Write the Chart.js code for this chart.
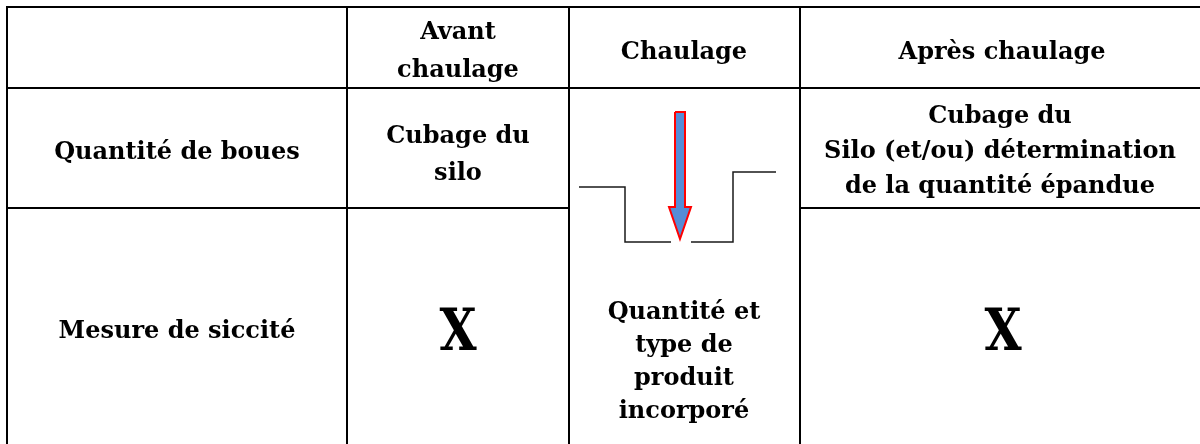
<!DOCTYPE html>
<html>
<head>
<meta charset="utf-8">
<script src="https://cdn.jsdelivr.net/npm/chart.js@4/dist/chart.umd.min.js"></script>
<style>
  body { margin: 0; background: #fff; }
  #wrap { width: 1200px; height: 444px; }
</style>
</head>
<body>
<div id="wrap"><canvas id="tableau" width="1200" height="444"></canvas></div>
<script>
// contenu du tableau
const colonnes = ["", "Avant\nchaulage", "Chaulage", "Après chaulage"];
const lignes = ["Quantité de boues", "Mesure de siccité"];
const quantiteBoues = ["Cubage du\nsilo", null, "Cubage du\nSilo (et/ou) détermination\nde la quantité épandue"];
const mesureSiccite = ["X", "Quantité et\ntype de\nproduit\nincorporé", "X"];

// bords des colonnes / lignes (unités de l'axe)
const bordsX = [7, 347, 569, 800, 1200];
const bordsY = [7, 88, 208, 444];

// schéma du chaulage : fosse + flèche
const fosse = [
    { x: 579, y: 187 }, { x: 625, y: 187 }, { x: 625, y: 242 }, { x: 671, y: 242 },
    { x: null, y: null },
    { x: 691, y: 242 }, { x: 733, y: 242 }, { x: 733, y: 172 }, { x: 776, y: 172 }
];
const fleche = [
    { x: 675, y: 112 }, { x: 685, y: 112 }, { x: 685, y: 207 }, { x: 691, y: 207 },
    { x: 680, y: 239 }, { x: 669, y: 207 }, { x: 675, y: 207 }, { x: 675, y: 112 }
];

// traits du tableau (la ligne y=208 ne traverse pas la colonne Chaulage)
const traits = [];
[bordsY[0], bordsY[1]].forEach(y => {
    traits.push({ x: bordsX[0] - 1, y }, { x: bordsX[4], y }, { x: null, y: null });
});
traits.push({ x: bordsX[0], y: bordsY[2] }, { x: bordsX[2], y: bordsY[2] }, { x: null, y: null });
traits.push({ x: bordsX[3], y: bordsY[2] }, { x: bordsX[4], y: bordsY[2] }, { x: null, y: null });
bordsX.slice(0, 4).forEach(x => {
    traits.push({ x, y: bordsY[0] }, { x, y: bordsY[3] }, { x: null, y: null });
});

// positions des textes : centre x, ligne de base de la 1re ligne, interligne
const police = "bold 24px 'DejaVu Serif', serif";
const textes = [
    { t: colonnes[1], x: 458, y: 39, h: 38 },
    { t: colonnes[2], x: 684, y: 59 },
    { t: colonnes[3], x: 1002, y: 59 },
    { t: lignes[0], x: 177, y: 159 },
    { t: lignes[1], x: 177, y: 338 },
    { t: quantiteBoues[0], x: 458, y: 143, h: 37 },
    { t: quantiteBoues[2], x: 1000, y: 123, h: 35 },
    { t: mesureSiccite[0], x: 458, y: 350, big: true },
    { t: mesureSiccite[1], x: 684, y: 319, h: 33 },
    { t: mesureSiccite[2], x: 1003, y: 350, big: true }
];

const textePlugin = {
    id: "textes",
    afterDatasetsDraw(chart) {
        const { ctx, scales } = chart;
        ctx.save();
        ctx.fillStyle = "#000";
        ctx.textAlign = "center";
        ctx.textBaseline = "alphabetic";
        textes.forEach(c => {
            const x = scales.x.getPixelForValue(c.x);
            const y0 = scales.y.getPixelForValue(c.y);
            if (c.big) {
                // le X est plus étroit dans l'original
                ctx.save();
                ctx.font = "bold 57px 'DejaVu Serif', serif";
                ctx.translate(x, y0);
                ctx.scale(0.84, 1);
                ctx.fillText(c.t, 0, 0);
                ctx.restore();
                return;
            }
            ctx.font = police;
            c.t.split("\n").forEach((p, k) => ctx.fillText(p, x, y0 + k * (c.h || 0)));
        });
        ctx.restore();
    }
};

new Chart(document.getElementById("tableau"), {
    type: "scatter",
    data: {
        datasets: [
            { data: traits, showLine: true, borderColor: "#000", borderWidth: 2, pointRadius: 0, spanGaps: false },
            { data: fosse, showLine: true, borderColor: "#1a1a1a", borderWidth: 1.5, pointRadius: 0, spanGaps: false },
            { data: fleche, showLine: true, borderColor: "#ff0000", borderWidth: 2, backgroundColor: "#558cd6", fill: "shape", pointRadius: 0 }
        ]
    },
    options: {
        responsive: false,
        animation: false,
        layout: { padding: 0 },
        plugins: { legend: { display: false }, tooltip: { enabled: false } },
        scales: {
            x: { type: "linear", min: 0, max: 1200, display: false },
            y: { type: "linear", min: 0, max: 444, reverse: true, display: false }
        }
    },
    plugins: [textePlugin]
});
</script>
</body>
</html>
